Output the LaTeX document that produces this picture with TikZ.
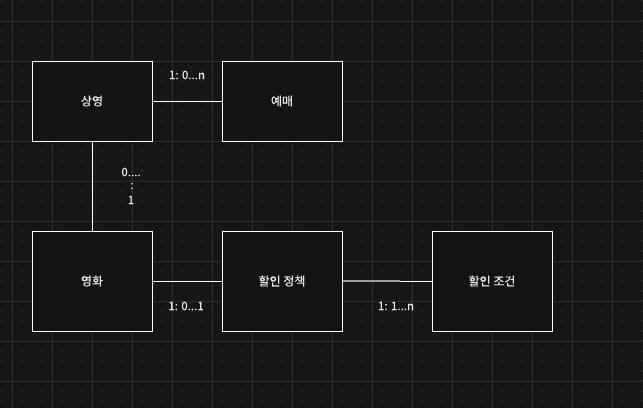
\documentclass[tikz,border=0pt]{standalone}
\usepackage{fontspec}
\setmainfont{Noto Sans CJK KR}[BoldFont={Noto Sans CJK KR}, BoldFeatures={FakeBold=0.35}]
\definecolor{bg}{HTML}{161616}
\definecolor{gridc}{HTML}{2C2C2C}
\definecolor{dotc}{HTML}{262626}
\definecolor{boxfill}{HTML}{141414}
\definecolor{txt}{HTML}{EDEDED}
\definecolor{grayline}{HTML}{9A9A9A}
\tikzset{
  entity/.style={draw=white, line width=1pt, fill=boxfill, minimum width=120pt, inner sep=0pt, text=txt, font=\fontsize{12}{14}\selectfont\bfseries},
  conn/.style={draw=white, line width=1pt},
  faint/.style={draw=grayline, line width=1.2pt},
  lbl/.style={text=txt, font=\fontsize{11.5}{13}\selectfont\bfseries, inner sep=0pt}
}
\begin{document}
\begin{tikzpicture}[x=1pt,y=-1pt]
\fill[bg] (0,0) rectangle (643,408);
\useasboundingbox (0,0) rectangle (643,408);
\foreach \x in {2,12,...,642}{
  \foreach \y in {1,11,...,401}{
    \fill[dotc] (\x-0.6,\y-0.6) rectangle (\x+0.6,\y+0.6);
  }
}
\foreach \x in {12,52,...,612} \draw[gridc, line width=1pt] (\x,0) -- (\x,408);
\foreach \y in {21,61,...,381} \draw[gridc, line width=1pt] (0,\y) -- (643,\y);

\node[entity, minimum height=80pt] (sy) at (92,101) {상영};
\node[entity, minimum height=80pt] (ym) at (282,101) {예매};
\node[entity, minimum height=100pt] (mv) at (92,281) {영화};
\node[entity, minimum height=100pt] (dp) at (282,281) {할인 정책};
\node[entity, minimum height=100pt] (dc) at (492,281) {할인 조건};

\coordinate (m) at (400,281);
\draw[conn] (sy.east) -- (ym.west);
\draw[conn] (sy.south) -- (mv.north);
\draw[conn] (mv.east) -- (dp.west);
\draw[faint] (dp.east) -- (m);
\draw[conn] (m) -- (dc.west);

\node[lbl] (l1) at (187,75) {1: 0...n};
\node[lbl] (l2a) at (131,172) {0....};
\node[lbl] (l2b) at (132,186) {:};
\node[lbl] (l2c) at (131,200) {1};
\node[lbl] (l3) at (186,306) {1: 0...1};
\node[lbl] (l4) at (396,306) {1: 1...n};
\end{tikzpicture}
\end{document}
